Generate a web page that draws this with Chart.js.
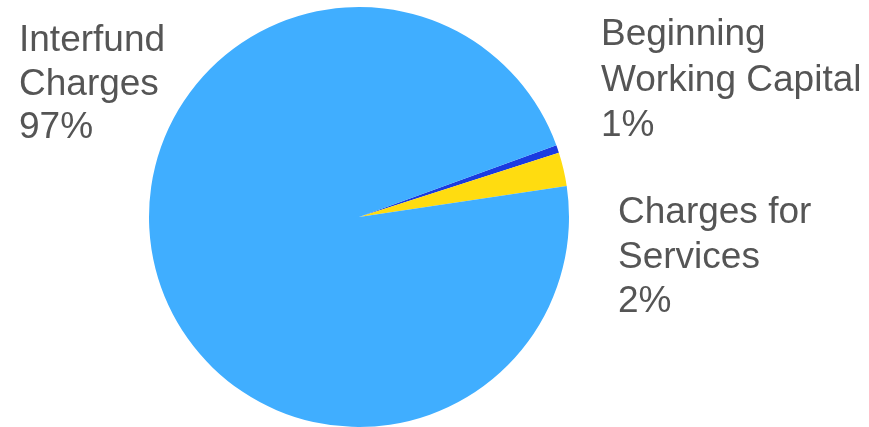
<!DOCTYPE html>
<html>
<head>
<meta charset="utf-8">
<script src="https://cdn.jsdelivr.net/npm/chart.js@4"></script>
<style>
    html, body { margin: 0; padding: 0; background: #ffffff; }
    #wrap { width: 869px; height: 427px; position: relative; }
</style>
</head>
<body>
<div id="wrap"><canvas id="pieChart"></canvas></div>
<script>
// Chart data
const categories = ["Beginning Working Capital", "Charges for Services", "Interfund Charges"];
const shares = [0.6, 2.6, 96.8];
const shareLabels = ["1%", "2%", "97%"];
const sliceColors = ["#1a3be0", "#ffdc10", "#40aeff"];

// Label text lines and where they sit (x, first baseline)
const labelLines = [
    ["Beginning", "Working Capital"],
    ["Charges for", "Services"],
    ["Interfund", "Charges"]
];
const labelPlaces = [
    { x: 601, y: 45, step: 45.5 },
    { x: 618, y: 223, step: 44.5 },
    { x: 19, y: 51, step: 43.5 }
];

document.addEventListener("DOMContentLoaded", () => {
    const outsideLabels = {
        id: "outsideLabels",
        afterDraw(chart) {
            const ctx = chart.ctx;
            ctx.save();
            ctx.font = "37px 'Liberation Sans', Arial, sans-serif";
            ctx.fillStyle = "#555555";
            ctx.textAlign = "left";
            ctx.textBaseline = "alphabetic";
            chart.data.labels.forEach((label, i) => {
                const place = labelPlaces[i];
                const lines = labelLines[i].concat([shareLabels[i]]);
                lines.forEach((line, j) => {
                    ctx.fillText(line, place.x, place.y + j * place.step);
                });
            });
            ctx.restore();
        }
    };

    const ctx = document.getElementById("pieChart").getContext("2d");
    new Chart(ctx, {
        type: "pie",
        data: {
            labels: categories,
            datasets: [{
                data: shares,
                backgroundColor: sliceColors,
                borderWidth: 0
            }]
        },
        options: {
            responsive: true,
            maintainAspectRatio: false,
            animation: false,
            rotation: 70,
            layout: { padding: { left: 149, right: 300, top: 7, bottom: 0 } },
            plugins: {
                legend: { display: false },
                tooltip: { enabled: false }
            }
        },
        plugins: [outsideLabels]
    });
});
</script>
</body>
</html>
